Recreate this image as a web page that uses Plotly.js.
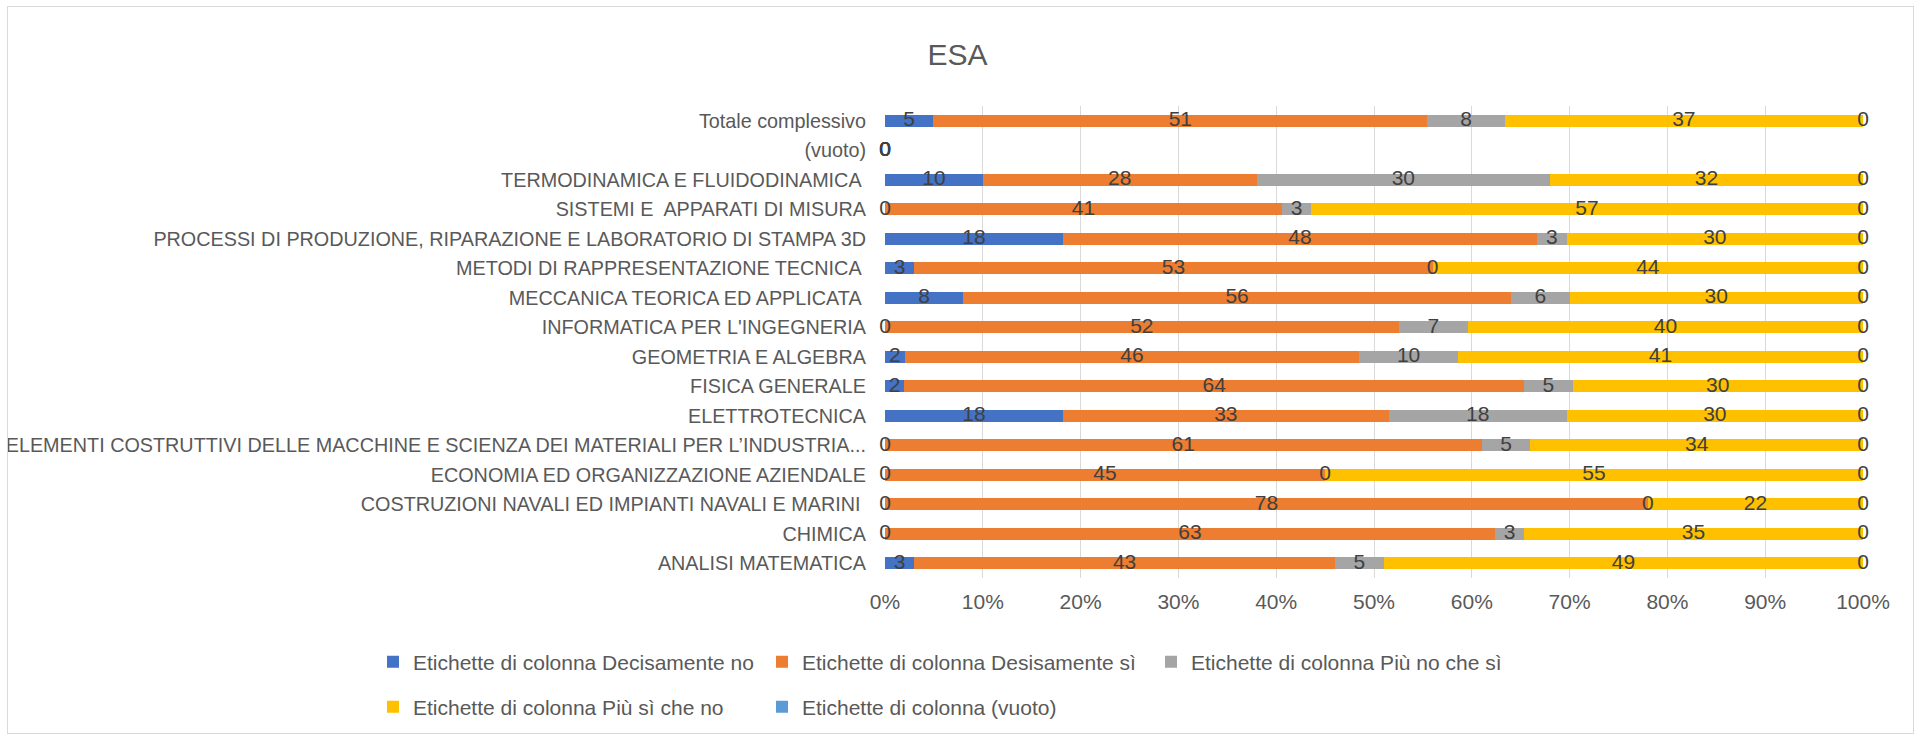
<!DOCTYPE html>
<html>
<head>
<meta charset="utf-8">
<script src="https://cdn.plot.ly/plotly-3.0.1.min.js"></script>
<style>
  html, body { margin: 0; padding: 0; background: #fff; }
  #chart { width: 1921px; height: 736px; }
  #frame { position: absolute; left: 7px; top: 6px; width: 1905px; height: 726px; border: 1px solid #D9D9D9; pointer-events: none; }
</style>
</head>
<body>
<div id="chart"></div>
<div id="frame"></div>
<script>
// Categories, bottom to top
const categories = [
  "ANALISI MATEMATICA",
  "CHIMICA",
  "COSTRUZIONI NAVALI ED IMPIANTI NAVALI E MARINI ",
  "ECONOMIA ED ORGANIZZAZIONE AZIENDALE",
  "ELEMENTI COSTRUTTIVI DELLE MACCHINE E SCIENZA DEI MATERIALI PER L\u2019INDUSTRIA...",
  "ELETTROTECNICA",
  "FISICA GENERALE",
  "GEOMETRIA E ALGEBRA",
  "INFORMATICA PER L'INGEGNERIA",
  "MECCANICA TEORICA ED APPLICATA ",
  "METODI DI RAPPRESENTAZIONE TECNICA ",
  "PROCESSI DI PRODUZIONE, RIPARAZIONE E LABORATORIO DI STAMPA 3D",
  "SISTEMI E  APPARATI DI MISURA",
  "TERMODINAMICA E FLUIDODINAMICA ",
  "(vuoto)",
  "Totale complessivo"
];

const seriesNames = [
  "Etichette di colonna Decisamente no",
  "Etichette di colonna Desisamente s\u00ec",
  "Etichette di colonna Pi\u00f9 no che s\u00ec",
  "Etichette di colonna Pi\u00f9 s\u00ec che no",
  "Etichette di colonna (vuoto)"
];

const decisamenteNo = [3, 0, 0, 0, 0, 18, 2, 2, 0, 8, 3, 18, 0, 10, 0, 5];
const decisamenteSi = [43, 63, 78, 45, 61, 33, 64, 46, 52, 56, 53, 48, 41, 28, 0, 51];
const piuNoCheSi   = [5, 3, 0, 0, 5, 18, 5, 10, 7, 6, 0, 3, 3, 30, 0, 8];
const piuSiCheNo   = [49, 35, 22, 55, 34, 30, 30, 41, 40, 30, 44, 30, 57, 32, 0, 37];
const vuotoSerie   = [0, 0, 0, 0, 0, 0, 0, 0, 0, 0, 0, 0, 0, 0, 0, 0];

const seriesValues = [decisamenteNo, decisamenteSi, piuNoCheSi, piuSiCheNo, vuotoSerie];
const seriesColors = ["#4472C4", "#ED7D31", "#A5A5A5", "#FFC000", "#5B9BD5"];
const xTicks = [0, 10, 20, 30, 40, 50, 60, 70, 80, 90, 100];

const FONT = "'Liberation Sans', Arial, sans-serif";

const traces = [];
seriesValues.forEach((vals, s) => {
  traces.push({
    type: "bar",
    orientation: "h",
    name: seriesNames[s],
    y: categories,
    x: vals,
    marker: { color: seriesColors[s], line: { width: 0 } },
    legend: s < 3 ? "legend" : "legend2",
    hoverinfo: "name+x"
  });
});

// data labels at the centre of each segment (normalised to 100%)
const lx = [], ly = [], lt = [];
categories.forEach((c, i) => {
  const total = seriesValues.reduce((a, v) => a + v[i], 0);
  let cum = 0;
  seriesValues.forEach((vals) => {
    const v = vals[i];
    const pos = total ? (cum + v / 2) / total * 100 : 0;
    lx.push(pos); ly.push(c); lt.push(String(v));
    cum += v;
  });
});
traces.push({
  type: "scatter",
  mode: "text",
  x: lx, y: ly, text: lt,
  textposition: "middle center",
  textfont: { family: FONT, size: 21, color: "#404040" },
  cliponaxis: false,
  showlegend: false,
  hoverinfo: "skip"
});

const layout = {
  width: 1921,
  height: 736,
  paper_bgcolor: "#fff",
  plot_bgcolor: "#fff",
  barmode: "stack",
  barnorm: "percent",
  bargap: 0.6,
  font: { family: FONT, size: 20, color: "#595959" },
  margin: { l: 885, r: 58, t: 106, b: 158, autoexpand: false },
  title: { text: "ESA", x: 0.4985, xref: "container", xanchor: "center", y: 1 - 54 / 736, yanchor: "middle",
           font: { family: FONT, size: 30, color: "#595959" } },
  xaxis: {
    range: [0, 100],
    tickvals: xTicks,
    ticktext: xTicks.map(t => t + "%"),
    showgrid: true,
    gridcolor: "#D9D9D9",
    gridwidth: 1,
    zeroline: false,
    showline: false,
    ticks: "",
    ticklabelstandoff: 9,
    tickfont: { family: FONT, size: 21, color: "#595959" },
    fixedrange: true
  },
  yaxis: {
    type: "category",
    categoryorder: "array",
    categoryarray: categories,
    range: [-0.5, categories.length - 0.5],
    autorange: false,
    showgrid: false,
    zeroline: false,
    showline: false,
    ticks: "",
    ticklabelstandoff: 18,
    tickfont: { family: FONT, size: 19.8, color: "#595959" },
    fixedrange: true
  },
  legend: {
    orientation: "h",
    x: (373 - 885) / 978, xanchor: "left",
    y: (578 - 662) / 472, yanchor: "middle",
    entrywidth: 344, entrywidthmode: "pixels",
    font: { family: FONT, size: 21, color: "#595959" },
    traceorder: "normal"
  },
  legend2: {
    orientation: "h",
    x: (373 - 885) / 978, xanchor: "left",
    y: (578 - 707) / 472, yanchor: "middle",
    entrywidth: 344, entrywidthmode: "pixels",
    font: { family: FONT, size: 21, color: "#595959" },
    traceorder: "normal"
  },
  showlegend: true
};

Plotly.newPlot("chart", traces, layout, { displayModeBar: false, responsive: false });
</script>
</body>
</html>
